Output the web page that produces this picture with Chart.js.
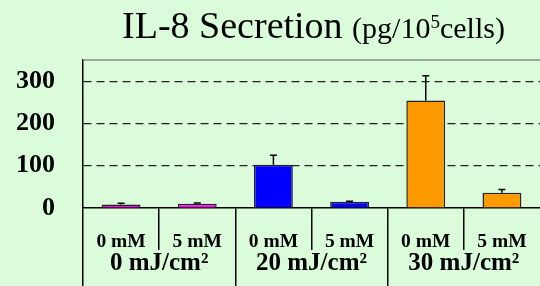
<!DOCTYPE html>
<html>
<head>
<meta charset="utf-8">
<script src="https://cdn.jsdelivr.net/npm/chart.js@4"></script>
<style>
  html, body { margin: 0; padding: 0; background: #DAFCDA; }
  #wrap { width: 540px; height: 286px; position: relative; }
</style>
</head>
<body>
<div id="wrap"><canvas id="il8Chart"></canvas></div>
<script>
// values
var doses = ["0 mM", "5 mM", "0 mM", "5 mM", "0 mM", "5 mM"];
var groups = ["0 mJ/cm²", "20 mJ/cm²", "30 mJ/cm²"];
var means = [8, 10, 102, 15, 254, 36];
var errors = [3, 2, 23, 1, 59, 8];
var barColors = ["#FF00FF", "#FF00FF", "#0000FF", "#0000FF", "#FF9900", "#FF9900"];
var yTicks = [0, 100, 200, 300];

var serif = "'Liberation Serif', 'Times New Roman', serif";

// error bars (upper only, small cap)
var errorBars = {
    id: 'errorBars',
    afterDatasetsDraw: function (chart) {
        var ctx = chart.ctx;
        var y = chart.scales.y;
        var meta = chart.getDatasetMeta(0);
        ctx.save();
        ctx.strokeStyle = '#000';
        ctx.lineWidth = 1.5;
        meta.data.forEach(function (bar, i) {
            var top = y.getPixelForValue(means[i] + errors[i]);
            ctx.beginPath();
            ctx.moveTo(bar.x, bar.y);
            ctx.lineTo(bar.x, top);
            ctx.moveTo(bar.x - 3.5, top);
            ctx.lineTo(bar.x + 3.5, top);
            ctx.stroke();
        });
        ctx.restore();
    }
};

// gray line on top of the plot area
var topBorder = {
    id: 'topBorder',
    beforeDatasetsDraw: function (chart) {
        var a = chart.chartArea, ctx = chart.ctx;
        ctx.save();
        ctx.strokeStyle = '#8A8A8A';
        ctx.lineWidth = 1.5;
        ctx.beginPath();
        ctx.moveTo(a.left, a.top);
        ctx.lineTo(a.right, a.top);
        ctx.stroke();
        ctx.restore();
    }
};

// title with a superscript
var titleText = {
    id: 'titleText',
    afterDraw: function (chart) {
        var ctx = chart.ctx, a = chart.chartArea;
        var parts = [
            { t: "IL-8 Secretion ", f: "38px " + serif, dy: 0 },
            { t: "(pg/10", f: "30px " + serif, dy: 0 },
            { t: "5", f: "19px " + serif, dy: -10 },
            { t: "cells)", f: "30px " + serif, dy: 0 }
        ];
        ctx.save();
        ctx.fillStyle = '#000';
        ctx.textBaseline = 'alphabetic';
        ctx.textAlign = 'left';
        var total = 0;
        parts.forEach(function (p) { ctx.font = p.f; p.w = ctx.measureText(p.t).width; total += p.w; });
        var x = (a.left + a.right) / 2 - total / 2 + 2;
        parts.forEach(function (p) {
            ctx.font = p.f;
            ctx.fillText(p.t, x, 38 + p.dy);
            x += p.w;
        });
        ctx.restore();
    }
};

function edgeColor(c) {
    return c.index === undefined ? 'rgba(0,0,0,0)' : '#000';
}

new Chart(document.getElementById('il8Chart'), {
    type: 'bar',
    data: {
        labels: doses,
        datasets: [{
            data: means,
            backgroundColor: barColors,
            borderColor: '#222',
            borderWidth: 1.5,
            barPercentage: 0.51,
            categoryPercentage: 1,
            xAxisID: 'x'
        }]
    },
    options: {
        responsive: true,
        maintainAspectRatio: false,
        animation: false,
        layout: { padding: { top: 60, left: 0, right: 0, bottom: 0 } },
        plugins: {
            legend: { display: false },
            tooltip: { enabled: false },
            title: { display: false }
        },
        scales: {
            x: {
                type: 'category',
                position: 'bottom',
                weight: 0,
                offset: true,
                grid: {
                    offset: true,
                    drawOnChartArea: false,
                    drawTicks: true,
                    tickLength: 42,
                    color: edgeColor,
                    lineWidth: 1.5
                },
                border: { display: true, color: '#000', width: 1.5 },
                ticks: {
                    color: '#000',
                    font: { family: serif, size: 19.5, weight: 'bold', lineHeight: 1 },
                    padding: -18,
                    maxRotation: 0,
                    autoSkip: false
                },
                afterFit: function (scale) { scale.height = 42; }
            },
            groups: {
                type: 'category',
                axis: 'x',
                position: 'bottom',
                weight: 1,
                labels: groups,
                offset: true,
                grid: {
                    offset: true,
                    drawOnChartArea: false,
                    drawTicks: true,
                    tickLength: 36,
                    color: edgeColor,
                    lineWidth: 1.5
                },
                border: { display: false },
                ticks: {
                    color: '#000',
                    font: { family: serif, size: 25, weight: 'bold', lineHeight: 1 },
                    padding: -35,
                    maxRotation: 0,
                    autoSkip: false
                },
                afterFit: function (scale) { scale.height = 36; }
            },
            y: {
                min: 0,
                max: 350,
                afterBuildTicks: function (scale) {
                    scale.ticks = yTicks.map(function (v) { return { value: v }; });
                },
                grid: {
                    drawTicks: false,
                    color: function (c) { return c.tick && c.tick.value === 0 ? 'rgba(0,0,0,0)' : '#222'; },
                    lineWidth: 1.2
                },
                border: { display: true, color: '#000', width: 1.5, dash: [8, 5] },
                ticks: {
                    color: '#000',
                    font: { family: serif, size: 26, weight: 'bold' },
                    padding: 28
                },
                afterFit: function (scale) { scale.width = 83; }
            }
        }
    },
    plugins: [topBorder, errorBars, titleText]
});
</script>
</body>
</html>
